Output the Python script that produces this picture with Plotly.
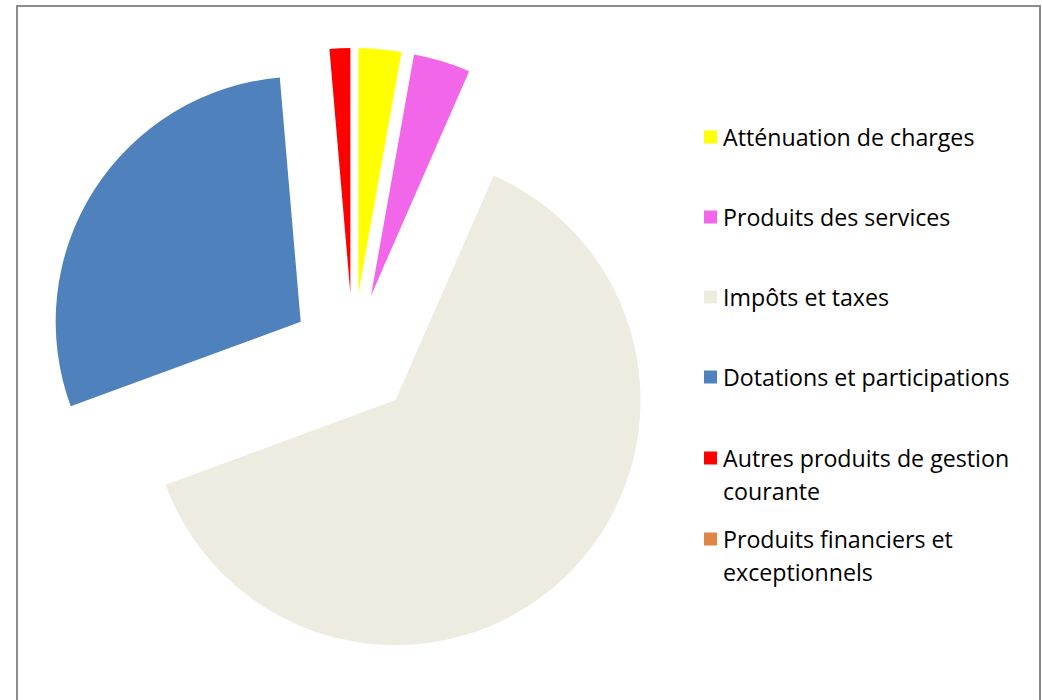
import plotly.graph_objects as go

labels = [
    "Atténuation de charges",
    "Produits des services",
    "Impôts et taxes",
    "Dotations et participations",
    "Autres produits de gestion<br>courante",
    "Produits financiers et<br>exceptionnels",
]
values = [2.81, 3.75, 62.83, 29.25, 1.36, 0.0]
colors = ["#FFFF00", "#F266EA", "#EEECE1", "#4F81BD", "#FF0000", "#DE8744"]

W, H = 1042, 700
FONT = "Open Sans"
FS = 23.2

fig = go.Figure()
fig.add_trace(go.Pie(
    labels=[l.replace("<br>", " ") for l in labels],
    values=values,
    sort=False,
    direction="clockwise",
    rotation=0,
    pull=0.253,
    marker=dict(colors=colors, line=dict(width=0)),
    textinfo="none",
    hoverinfo="label+percent",
    showlegend=False,
    domain=dict(x=[46 / W, 660 / W], y=[1 - 662 / H, 1 - 48 / H]),
))

shapes = [dict(type="rect", xref="paper", yref="paper",
               x0=17 / W, x1=1040 / W, y0=-0.05, y1=1 - 6 / H,
               line=dict(color="#8C8C8C", width=2), fillcolor="rgba(0,0,0,0)")]
annotations = []
item_tops = [137, 217, 297, 377, 458, 539]
for lab, col, yc in zip(labels, colors, item_tops):
    shapes.append(dict(type="rect", xref="paper", yref="paper",
                       x0=704 / W, x1=717 / W,
                       y0=1 - (yc + 6.5) / H, y1=1 - (yc - 6.5) / H,
                       line=dict(width=0), fillcolor=col))
    for k, line in enumerate(lab.split("<br>")):
        annotations.append(dict(xref="paper", yref="paper",
                                x=721 / W, y=1 - (yc + 33 * k) / H,
                                xanchor="left", yanchor="middle",
                                text=line, showarrow=False,
                                font=dict(family=FONT, size=FS, color="#000000")))

fig.update_layout(
    width=W, height=H,
    margin=dict(l=0, r=0, t=0, b=0),
    paper_bgcolor="white", plot_bgcolor="white",
    shapes=shapes, annotations=annotations,
)
fig.write_html(
    "out.html",
    config={"displayModeBar": False},
    post_script="document.body.style.margin='0';document.body.style.overflow='hidden';",
)
